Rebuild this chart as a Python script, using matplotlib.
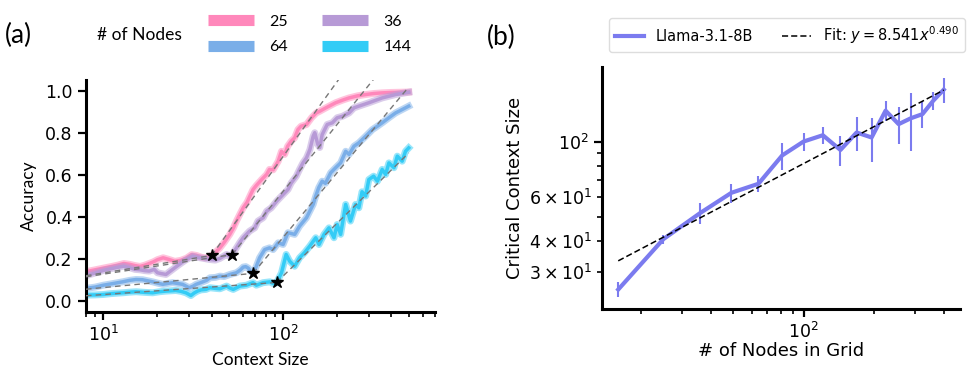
import numpy as np
import matplotlib
matplotlib.use('Agg')
import matplotlib.pyplot as plt
from matplotlib.lines import Line2D

plt.rcParams['font.family'] = ['DejaVu Sans']

# ---- panel (a): accuracy vs context size, one curve per grid size ----
node_labels = ['25', '36', '64', '144']
colors = ['#ff88bb', '#b79ad6', '#7aaee8', '#33ccf6']

x_25 = [8, 9, 10, 11, 12, 13, 14, 15, 16, 17, 18, 19, 20, 21.5, 23, 25, 27, 29, 31, 33,
        35, 37, 39, 40, 42, 44.5, 47, 50.5, 53, 55, 58, 60, 63, 65, 68, 71, 76, 81, 84, 88,
        94, 98, 102, 106, 111, 116, 121, 126, 135, 144, 153, 160, 173, 196, 215, 233, 260,
        288, 320, 356, 400, 450, 500]
acc_25 = [0.141, 0.150, 0.158, 0.165, 0.172, 0.180, 0.176, 0.170, 0.166, 0.172, 0.180,
          0.188, 0.198, 0.207, 0.200, 0.190, 0.195, 0.205, 0.222, 0.218, 0.210, 0.206,
          0.214, 0.218, 0.232, 0.254, 0.280, 0.318, 0.350, 0.381, 0.420, 0.444, 0.470,
          0.495, 0.530, 0.550, 0.578, 0.602, 0.626, 0.624, 0.665, 0.712, 0.697, 0.736,
          0.760, 0.776, 0.815, 0.831, 0.839, 0.871, 0.894, 0.902, 0.918, 0.942, 0.955,
          0.965, 0.975, 0.981, 0.986, 0.989, 0.991, 0.992, 0.993]

x_36 = [8, 9, 10, 11, 12, 13, 14, 15, 16, 17, 18, 19.2, 20, 21, 22.3, 24.3, 26.4, 28.5,
        31.4, 33, 35.6, 39, 42, 44.5, 48.5, 50, 52, 55, 57.5, 60, 65, 69.5, 72.5, 77.5, 81,
        86, 92, 100, 106.5, 111, 118.5, 123.5, 129, 135, 141, 147, 150, 156, 160, 165, 176,
        188, 200, 214, 233, 248, 264, 300, 356, 423, 500]
acc_36 = [0.122, 0.135, 0.147, 0.155, 0.162, 0.167, 0.160, 0.152, 0.150, 0.146, 0.144,
          0.152, 0.136, 0.132, 0.128, 0.152, 0.175, 0.195, 0.215, 0.210, 0.205, 0.199,
          0.196, 0.204, 0.223, 0.215, 0.222, 0.254, 0.280, 0.302, 0.333, 0.349, 0.381,
          0.397, 0.428, 0.444, 0.475, 0.507, 0.531, 0.562, 0.594, 0.626, 0.657, 0.681,
          0.720, 0.783, 0.800, 0.745, 0.730, 0.791, 0.839, 0.847, 0.871, 0.878, 0.894,
          0.918, 0.926, 0.942, 0.965, 0.981, 0.992]

x_64 = [8, 9, 10, 11, 12.8, 14, 15.2, 16.5, 18.8, 20, 21.4, 23, 24.3, 26, 27.6, 30, 31.5,
        32.8, 35, 37.5, 39.2, 42, 44.5, 47, 50.6, 55, 58, 60, 62, 64, 66, 68, 71, 74, 79,
        84, 88, 94, 100, 106.5, 116, 123.5, 135, 147, 152, 158, 165, 172, 184, 196, 209,
        223, 233, 248, 264, 288, 314, 335, 356, 388, 423, 460, 500]
acc_64 = [0.062, 0.068, 0.077, 0.083, 0.093, 0.100, 0.104, 0.103, 0.093, 0.087, 0.081,
          0.086, 0.089, 0.085, 0.081, 0.065, 0.072, 0.081, 0.090, 0.100, 0.112, 0.114,
          0.120, 0.118, 0.128, 0.136, 0.150, 0.163, 0.165, 0.158, 0.142, 0.133, 0.167,
          0.207, 0.246, 0.254, 0.246, 0.278, 0.270, 0.326, 0.318, 0.357, 0.397, 0.460,
          0.500, 0.540, 0.570, 0.560, 0.610, 0.634, 0.657, 0.712, 0.697, 0.736, 0.752,
          0.783, 0.815, 0.831, 0.847, 0.871, 0.894, 0.910, 0.926]

x_144 = [8, 9, 10, 11, 12.8, 14, 15.2, 17, 18.8, 20.5, 22.3, 25.3, 27, 28.8, 30.7, 32,
         33.4, 35, 37.2, 39.2, 42, 44.5, 48.5, 50.5, 52.8, 57.5, 62.5, 68, 71, 77.4, 84.4,
         88, 92, 98, 104, 108.7, 116, 123.5, 131.5, 140.7, 152, 158.5, 169, 180, 192, 200,
         209, 223, 237, 253, 264, 275, 288, 300, 319, 335, 356, 372, 388, 414, 432, 460,
         480, 500]
acc_144 = [0.030, 0.031, 0.033, 0.037, 0.041, 0.044, 0.046, 0.043, 0.041, 0.046, 0.049,
           0.052, 0.048, 0.041, 0.028, 0.040, 0.049, 0.055, 0.057, 0.065, 0.062, 0.060,
           0.073, 0.064, 0.057, 0.073, 0.077, 0.089, 0.077, 0.089, 0.093, 0.085, 0.089,
           0.136, 0.223, 0.191, 0.167, 0.207, 0.231, 0.262, 0.302, 0.270, 0.318, 0.349,
           0.302, 0.365, 0.318, 0.460, 0.381, 0.460, 0.444, 0.520, 0.500, 0.578, 0.594,
           0.570, 0.626, 0.602, 0.657, 0.634, 0.689, 0.665, 0.712, 0.728]

curves_x = [x_25, x_36, x_64, x_144]
curves_y = [acc_25, acc_36, acc_64, acc_144]

# critical points (stars) and the two-piece fits around them
star_x = [40, 52, 68, 92]
star_y = [0.218, 0.222, 0.133, 0.090]
flat_start_y = [0.122, 0.117, 0.058, 0.027]   # value of flat fit at x=8
steep_slope = [1.18, 1.056, 1.02, 0.835]      # accuracy per decade after star

# ---- panel (b): critical context size vs number of nodes ----
nodes = [16, 25, 36, 49, 64, 81, 100, 121, 144, 169, 196, 225, 256, 289, 324, 361, 400]
crit_size = [25.5, 40.6, 51.7, 62.3, 67.7, 88, 100, 106, 92.5, 108.7, 103.8, 133, 117.4,
             124, 128.8, 146, 161.5]
crit_err = [1.8, 1.7, 5, 5.5, 5, 11, 8.5, 8, 12.5, 17, 21, 12, 20, 32, 16, 12.5, 19]
fit_a, fit_b = 8.541, 0.490

fig = plt.figure(figsize=(9.67, 3.69), dpi=100)
ax1 = fig.add_axes([0.0889, 0.1545, 0.3609, 0.6287])
ax2 = fig.add_axes([0.6225, 0.1626, 0.3703, 0.6558])

for xs, ys, c in zip(curves_x, curves_y, colors):
    ax1.plot(xs, ys, color=c, lw=5, alpha=0.5, solid_joinstyle='round')
    ax1.plot(xs, ys, color=c, lw=2.5)

x_left, x_end = 8, 500
for sx, sy, fy, k in zip(star_x, star_y, flat_start_y, steep_slope):
    ax1.plot([x_left, sx], [fy, sy], color='#777777', lw=1.0, ls=(0, (4, 3)), zorder=4)
    ax1.plot([sx, x_end], [sy, sy + k * np.log10(x_end / sx)], color='#777777', lw=1.0,
             ls=(0, (4, 3)), zorder=4)
ax1.plot(star_x, star_y, ls='none', marker='*', color='black', ms=9, zorder=6)

ax1.set_xscale('log')
ax1.set_xlim(8, 700)
ax1.set_ylim(-0.05, 1.05)
ax1.set_yticks([0, 0.2, 0.4, 0.6, 0.8, 1.0])
ax1.set_xlabel('Context Size', family='Lato', fontsize=12.5, labelpad=4.5)
ax1.set_ylabel('Accuracy', family='Lato', fontsize=12.5, labelpad=6)

handles = [Line2D([], [], color=c, lw=8, solid_capstyle='butt') for c in colors]
order = [0, 2, 1, 3]
fig.legend([handles[i] for i in order], [node_labels[i] for i in order], ncol=2,
           loc='center left', bbox_to_anchor=(208 / 967, 1 - 34.5 / 369), frameon=False,
           prop={'family': 'Lato', 'size': 11.5}, handlelength=2.9, handletextpad=0.95,
           columnspacing=2.1, labelspacing=0.7, borderpad=0, borderaxespad=0)
fig.text(97 / 967, 1 - 34.5 / 369, '# of Nodes', family='Lato', fontsize=12.5, va='center')
fig.text(5 / 967, 1 - 35 / 369, '(a)', family='Lato', fontsize=19, va='center')
fig.text(487 / 967, 1 - 37 / 369, '(b)', family='Lato', fontsize=19, va='center')

line_col = '#7b7bef'
ax2.errorbar(nodes, crit_size, yerr=crit_err, color=line_col, lw=3, elinewidth=1.5,
             capsize=0, zorder=3)
fit_x = np.array([nodes[0], nodes[-1]], dtype=float)
fit_line, = ax2.plot(fit_x, fit_a * fit_x ** fit_b, color='black', lw=1.1, ls=(0, (4, 2)),
                     zorder=4)
ax2.set_xscale('log')
ax2.set_yscale('log')
ax2.set_ylim(21.3, 199)
ax2.set_xlabel('# of Nodes in Grid', fontsize=13, labelpad=0)
ax2.set_ylabel('Critical Context Size', fontsize=13, labelpad=4)

model_handle = Line2D([], [], color=line_col, lw=3)
fig.legend([model_handle, fit_line],
           ['Llama-3.1-8B', r'Fit: $y = %.3fx^{%.3f}$' % (fit_a, fit_b)],
           ncol=2, loc='center', bbox_to_anchor=(787 / 967, 1 - 35 / 369), fontsize=10.5,
           framealpha=1, edgecolor='#dddddd', fancybox=True, borderaxespad=0)

for ax in (ax1, ax2):
    for side in ('top', 'right'):
        ax.spines[side].set_visible(False)
    for side in ('left', 'bottom'):
        ax.spines[side].set_linewidth(2.2)
    ax.tick_params(which='major', length=6, width=1.6, labelsize=12.5)
    ax.tick_params(which='minor', length=3.5, width=1.2, labelsize=12.5)

fig.savefig('out.png', dpi=100)
